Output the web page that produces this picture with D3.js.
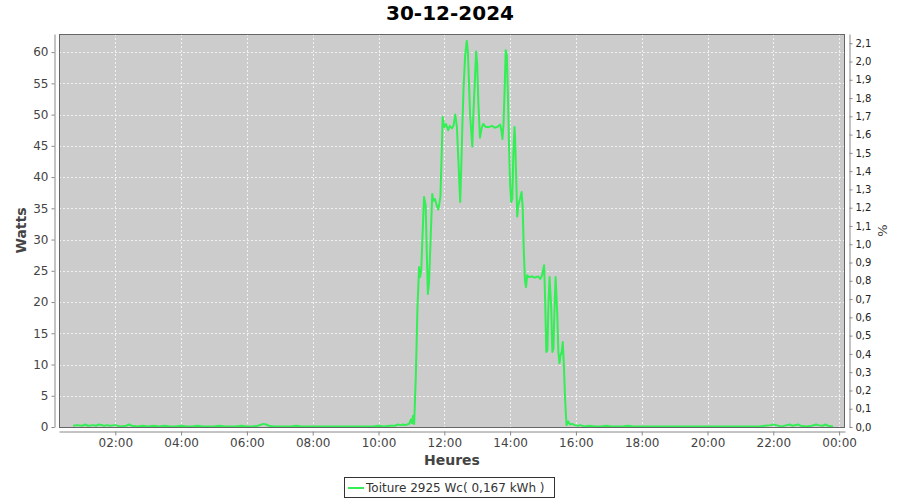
<!DOCTYPE html>
<html>
<head>
<meta charset="utf-8">
<script src="https://cdn.jsdelivr.net/npm/d3@7"></script>
<style>
  html, body { margin: 0; padding: 0; background: #ffffff; }
  svg { display: block; font-family: "DejaVu Sans", sans-serif; }
</style>
</head>
<body>
<svg id="chart" width="900" height="500"></svg>
<script>
// ---- Data ----
const title = "30-12-2024";
const seriesName = "Toiture 2925 Wc( 0,167 kWh )";
const xLabel = "Heures";
const yLabel = "Watts";
const y2Label = "%";
const peakPower = 2925; // Wc

const times = [
  "00:43","00:50","01:00","01:05","01:10","01:20","01:25","01:30","01:40","01:45","01:50","02:00",
  "02:10","02:20","02:25","02:30","02:40","02:50","03:00","03:10","03:20","03:30","03:40","03:50",
  "04:00","04:10","04:20","04:30","04:40","04:50","05:00","05:10","05:20","05:30","05:40","05:50",
  "06:00","06:10","06:20","06:30","06:35","06:40","06:50","07:00","07:10","07:20","07:30","07:40",
  "07:50","08:00","08:10","08:20","08:30","08:40","08:50","09:00","09:10","09:20","09:30","09:40",
  "09:50","10:00","10:10","10:20","10:30","10:35","10:40","10:45","10:48","10:52","10:56","10:59",
  "11:01","11:03","11:05","11:08","11:11","11:14","11:16","11:18","11:20","11:23","11:26","11:28",
  "11:30","11:32","11:35","11:38","11:40","11:43","11:46","11:49","11:51","11:53","11:55","11:57",
  "12:00","12:03","12:07","12:10","12:14","12:17","12:20","12:23","12:25","12:29","12:31","12:33",
  "12:35","12:38","12:41","12:43","12:45","12:47","12:51","12:53","12:56","12:58","13:00","13:02",
  "13:05","13:08","13:11","13:16","13:21","13:27","13:32","13:38","13:42","13:44","13:46","13:48",
  "13:50","13:52","13:54","13:56","13:58","14:00","14:02","14:04","14:06","14:08","14:09","14:11",
  "14:13","14:15","14:18","14:21","14:23","14:25","14:27","14:29","14:31","14:34","14:40","14:45",
  "14:51","14:55","14:58","15:02","15:04","15:06","15:08","15:10","15:12","15:15","15:17","15:19",
  "15:21","15:23","15:26","15:28","15:30","15:32","15:34","15:36","15:38","15:40","15:42","15:43",
  "15:46","15:49","15:53","15:58","16:03","16:08","16:15","16:25","16:35","16:45","16:55","17:05",
  "17:15","17:25","17:35","17:45","17:55","18:05","18:15","18:25","18:35","18:45","18:55","19:05",
  "19:15","19:25","19:35","19:45","19:55","20:05","20:15","20:25","20:35","20:45","20:55","21:05",
  "21:15","21:25","21:35","21:45","21:55","22:00","22:05","22:15","22:25","22:30","22:35","22:45",
  "22:50","23:00","23:10","23:18","23:22","23:30","23:35","23:40","23:49"
];
const watts = [
  0.2,0.3,0.2,0.4,0.2,0.3,0.2,0.4,0.2,0.3,0.2,0.3,
  0.1,0.2,0.4,0.2,0.1,0.2,0.1,0.2,0.1,0.2,0.1,0.1,
  0.2,0.1,0.1,0.2,0.1,0.1,0.1,0.2,0.1,0.1,0.1,0.2,
  0.1,0.1,0.2,0.5,0.4,0.2,0.1,0.1,0.1,0.1,0.2,0.1,
  0.1,0.1,0.1,0.1,0.1,0.1,0.1,0.1,0.1,0.1,0.1,0.1,
  0.1,0.2,0.1,0.2,0.2,0.4,0.3,0.4,0.3,0.4,0.5,1.2,
  0.6,1.8,0.5,8,19,25.6,24,25.2,30,36.8,35.5,28,
  21.3,23,30,37.3,36.2,36.5,35.5,34.8,35.8,37,43,49.6,
  48,48.5,47.5,48.2,47.8,48.3,50,48,44,36,42,48.5,
  54,59.5,61.8,60,55,50,44.9,50,56,60.1,58,52,
  46.3,47.8,48.5,48,48,48.2,47.9,48.1,48.4,47.5,46.1,48.5,
  54,60.3,59.5,53,45,39,36,36.5,44,48,46.5,40,
  33.7,35.5,36.5,37.6,35,28,23.5,22.4,24.3,24,24.1,23.9,
  24.1,23.7,24.2,25.9,20,12,12.3,20,24,19,12,12.5,
  19,24,18,12,10.2,11.5,12,13.6,10,5,1.5,0.3,
  0.9,0.4,0.5,0.3,0.2,0.3,0.1,0.2,0.1,0.1,0.2,0.1,
  0.1,0.1,0.2,0.1,0.1,0.1,0.1,0.1,0.1,0.1,0.1,0.1,
  0.1,0.1,0.1,0.1,0.1,0.1,0.1,0.1,0.1,0.1,0.1,0.1,
  0.1,0.1,0.1,0.2,0.3,0.4,0.3,0.1,0.3,0.4,0.2,0.4,
  0.2,0.1,0.2,0.4,0.3,0.2,0.4,0.2,0.1
];
const xTickLabels = ["02:00","04:00","06:00","08:00","10:00","12:00","14:00","16:00","18:00","20:00","22:00","00:00"];
const yTicks = [0,5,10,15,20,25,30,35,40,45,50,55,60];
const y2Ticks = [0.0,0.1,0.2,0.3,0.4,0.5,0.6,0.7,0.8,0.9,1.0,1.1,1.2,1.3,1.4,1.5,1.6,1.7,1.8,1.9,2.0,2.1];
const xDomainStart = "00:17:18";
const xDomainEnd = "24:10:44";
const yMax = 62.9;

// ---- Layout ----
const plot = { left: 59, right: 845, top: 34, bottom: 427 };
const axisOffset = 4;
const lineColor = "#33ee55";
const textColor = "#444444";

function parseHM(s) {
  const p = s.split(":").map(Number);
  return new Date(2024, 11, 30, p[0], p[1], p[2] || 0);
}
const data = times.map((t, i) => ({ t: parseHM(t), v: watts[i] }));

const svg = d3.select("#chart");

const x = d3.scaleTime()
  .domain([parseHM(xDomainStart), parseHM(xDomainEnd)])
  .range([plot.left, plot.right]);
const y = d3.scaleLinear().domain([0, yMax]).range([plot.bottom, plot.top]);
const y2 = d3.scaleLinear().domain([0, yMax / (peakPower / 100)]).range([plot.bottom, plot.top]);

const xTicks = xTickLabels.map(s => {
  const p = s.split(":").map(Number);
  return new Date(2024, 11, 30 + (p[0] === 0 ? 1 : 0), p[0], p[1]);
});

// plot background
svg.append("rect")
  .attr("x", plot.left).attr("y", plot.top)
  .attr("width", plot.right - plot.left).attr("height", plot.bottom - plot.top)
  .attr("fill", "#cccccc");

// gridlines
const grid = svg.append("g").attr("stroke", "#f2f2f2").attr("stroke-width", 1)
  .attr("stroke-dasharray", "2,2").attr("shape-rendering", "crispEdges");
grid.selectAll("line.v").data(xTicks).join("line")
  .attr("x1", d => Math.round(x(d)) + 0.5).attr("x2", d => Math.round(x(d)) + 0.5)
  .attr("y1", plot.top).attr("y2", plot.bottom);
grid.selectAll("line.h").data(yTicks.filter(d => d > 0)).join("line")
  .attr("y1", d => Math.round(y(d)) + 0.5).attr("y2", d => Math.round(y(d)) + 0.5)
  .attr("x1", plot.left).attr("x2", plot.right);

// line
const clip = svg.append("clipPath").attr("id", "clip").append("rect")
  .attr("x", plot.left).attr("y", plot.top)
  .attr("width", plot.right - plot.left).attr("height", plot.bottom - plot.top);
const line = d3.line().x(d => x(d.t)).y(d => y(d.v));
svg.append("path").datum(data)
  .attr("clip-path", "url(#clip)")
  .attr("d", line)
  .attr("fill", "none")
  .attr("stroke", lineColor)
  .attr("stroke-width", 2)
  .attr("stroke-linejoin", "round");

// plot outline
svg.append("rect")
  .attr("x", plot.left + 0.5).attr("y", plot.top + 0.5)
  .attr("width", plot.right - plot.left - 1).attr("height", plot.bottom - plot.top)
  .attr("fill", "none").attr("stroke", "#666666").attr("stroke-width", 1);

// axes
function styleAxis(g, fontSize, color) {
  g.select(".domain").attr("stroke", "#888888");
  g.selectAll(".tick line").attr("stroke", "#888888");
  g.selectAll(".tick text").attr("fill", color).attr("font-size", fontSize)
    .attr("font-family", "DejaVu Sans, sans-serif");
}

const xAxis = svg.append("g")
  .attr("transform", `translate(0,${plot.bottom + axisOffset + 0.5})`)
  .call(d3.axisBottom(x).tickValues(xTicks).tickFormat(d3.timeFormat("%H:%M"))
    .tickSizeInner(4).tickSizeOuter(0).tickPadding(3));
styleAxis(xAxis, 12, textColor);

const yAxis = svg.append("g")
  .attr("transform", `translate(${plot.left - axisOffset - 0.5},0)`)
  .call(d3.axisLeft(y).tickValues(yTicks).tickFormat(d3.format("d"))
    .tickSizeInner(3).tickSizeOuter(0).tickPadding(3));
styleAxis(yAxis, 12, textColor);

const y2Axis = svg.append("g")
  .attr("transform", `translate(${plot.right + axisOffset + 0.5},0)`)
  .call(d3.axisRight(y2).tickValues(y2Ticks).tickFormat(d => d3.format(".1f")(d).replace(".", ","))
    .tickSizeInner(3).tickSizeOuter(0).tickPadding(3));
styleAxis(y2Axis, 10, "#222222");

// title
svg.append("text")
  .attr("x", 450).attr("y", 20)
  .attr("text-anchor", "middle")
  .attr("font-size", 20).attr("font-weight", "bold").attr("fill", "#000")
  .text(title);

// axis labels
svg.append("text")
  .attr("x", (plot.left + plot.right) / 2).attr("y", 465)
  .attr("text-anchor", "middle")
  .attr("font-size", 14).attr("font-weight", "bold").attr("fill", textColor)
  .text(xLabel);

svg.append("text")
  .attr("transform", `translate(26,${(plot.top + plot.bottom) / 2}) rotate(-90)`)
  .attr("text-anchor", "middle")
  .attr("font-size", 14).attr("font-weight", "bold").attr("fill", textColor)
  .text(yLabel);

svg.append("text")
  .attr("transform", `translate(887,${(plot.top + plot.bottom) / 2}) rotate(-90)`)
  .attr("text-anchor", "middle")
  .attr("font-size", 13).attr("fill", textColor)
  .text(y2Label);

// legend
const lg = svg.append("g");
lg.append("rect")
  .attr("x", 344.5).attr("y", 477.5).attr("width", 210).attr("height", 20)
  .attr("fill", "#ffffff").attr("stroke", "#333333").attr("stroke-width", 1);
lg.append("line")
  .attr("x1", 348).attr("x2", 364).attr("y1", 488).attr("y2", 488)
  .attr("stroke", lineColor).attr("stroke-width", 2);
lg.append("text")
  .attr("x", 366).attr("y", 492)
  .attr("font-size", 12).attr("fill", "#333333")
  .text(seriesName);
</script>
</body>
</html>
